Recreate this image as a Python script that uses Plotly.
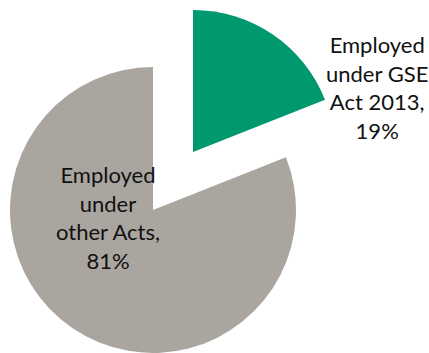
import plotly.graph_objects as go

# Share of employees by governing legislation
labels = ["Employed<br>under GSE<br>Act 2013", "Employed<br>under<br>other Acts"]
values = [19, 81]
colors = ["#00996F", "#AAA59F"]

W, H = 429, 353

def dom(cx, cy, r):
    # pixel centre/radius -> paper domain
    return dict(x=[(cx - r) / W, (cx + r) / W],
                y=[(H - cy - r) / H, (H - cy + r) / H])

fig = go.Figure()

# Remaining slice (sits at the pie's own centre)
fig.add_trace(go.Pie(
    values=values, labels=labels, sort=False, direction="clockwise",
    marker=dict(colors=["rgba(0,0,0,0)", colors[1]], line=dict(width=0)),
    textinfo="none", hoverinfo="skip", showlegend=False,
    domain=dom(153, 210, 143),
))
# Highlighted slice, pulled out along its mid-angle
fig.add_trace(go.Pie(
    values=values, labels=labels, sort=False, direction="clockwise",
    marker=dict(colors=[colors[0], "rgba(0,0,0,0)"], line=dict(width=0)),
    textinfo="none", hoverinfo="skip", showlegend=False,
    domain=dom(193, 152, 142),
))

label_pos = [(377, 87), (108, 217)]
for lab, v, (px, py) in zip(labels, values, label_pos):
    fig.add_annotation(
        x=px / W, y=1 - py / H, xref="paper", yref="paper",
        xanchor="center", yanchor="middle",
        text=f"{lab},<br>{v}%", showarrow=False, align="center",
        font=dict(family="Lato, Carlito, sans-serif", size=22, color="#111111"),
    )

fig.update_layout(
    width=W, height=H, margin=dict(l=0, r=0, t=0, b=0),
    paper_bgcolor="white", plot_bgcolor="white",
)

fig.write_html("out.html")
